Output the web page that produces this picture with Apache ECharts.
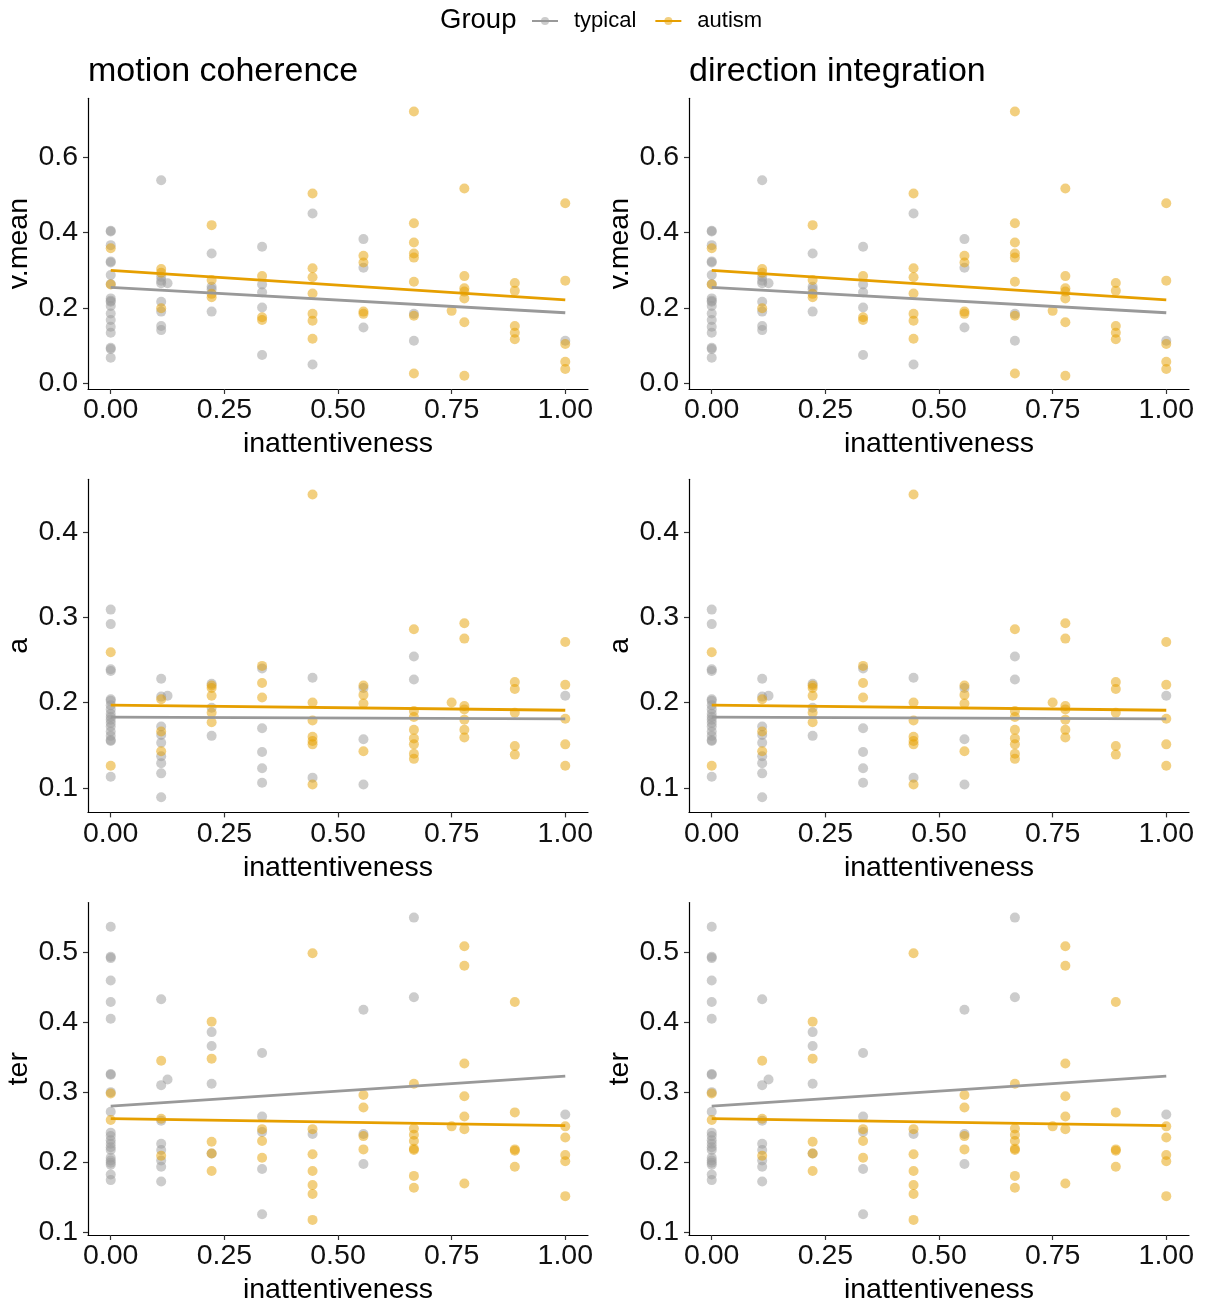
<!DOCTYPE html>
<html>
<head>
<meta charset="utf-8">
<script src="https://cdn.jsdelivr.net/npm/echarts@6/dist/echarts.min.js"></script>
<style>
html,body{margin:0;padding:0;background:#fff;}
#chart{width:1206px;height:1306px;}
</style>
</head>
<body>
<div id="chart"></div>
<script>
// ---- data (x = inattentiveness, y = parameter) ----
const xTicks = [0, 0.25, 0.5, 0.75, 1];
const vmeanTicks = [0, 0.2, 0.4, 0.6];
const aTicks = [0.1, 0.2, 0.3, 0.4];
const terTicks = [0.1, 0.2, 0.3, 0.4, 0.5];
const columnTitles = ['motion coherence', 'direction integration'];
const groups = ['typical', 'autism'];

// each entry: [x, [y values at that x]]
const vmeanTypical = [
  [0, [0.404, 0.402, 0.366, 0.323, 0.320, 0.287, 0.263, 0.225, 0.219, 0.216, 0.205, 0.185, 0.168, 0.150, 0.134, 0.094, 0.091, 0.068]],
  [0.111, [0.538, 0.282, 0.272, 0.265, 0.216, 0.190, 0.152, 0.141]],
  [0.125, [0.265]],
  [0.222, [0.344, 0.256, 0.249, 0.190]],
  [0.333, [0.362, 0.262, 0.241, 0.201, 0.075]],
  [0.444, [0.450, 0.050]],
  [0.556, [0.382, 0.306, 0.148]],
  [0.667, [0.184, 0.113]],
  [1, [0.113]]
];
const vmeanAutism = [
  [0, [0.358, 0.262]],
  [0.111, [0.303, 0.293, 0.199]],
  [0.222, [0.419, 0.274, 0.237, 0.228]],
  [0.333, [0.284, 0.175, 0.168]],
  [0.444, [0.503, 0.305, 0.281, 0.238, 0.184, 0.166, 0.118]],
  [0.556, [0.338, 0.320, 0.190, 0.184]],
  [0.667, [0.720, 0.424, 0.373, 0.344, 0.333, 0.269, 0.179, 0.026]],
  [0.75, [0.192]],
  [0.778, [0.516, 0.284, 0.252, 0.243, 0.225, 0.162, 0.020]],
  [0.889, [0.266, 0.245, 0.152, 0.134, 0.117]],
  [1, [0.477, 0.272, 0.104, 0.057, 0.038]]
];
const aTypical = [
  [0, [0.309, 0.292, 0.239, 0.237, 0.204, 0.202, 0.197, 0.192, 0.187, 0.183, 0.180, 0.176, 0.172, 0.166, 0.161, 0.156, 0.155, 0.113]],
  [0.111, [0.228, 0.207, 0.172, 0.162, 0.153, 0.137, 0.129, 0.117, 0.089]],
  [0.125, [0.208]],
  [0.222, [0.222, 0.194, 0.161]],
  [0.333, [0.240, 0.170, 0.142, 0.123, 0.106]],
  [0.444, [0.229, 0.112]],
  [0.556, [0.217, 0.157, 0.104]],
  [0.667, [0.254, 0.227]],
  [1, [0.208]]
];
const aAutism = [
  [0, [0.259, 0.126]],
  [0.111, [0.204, 0.166, 0.143]],
  [0.222, [0.220, 0.217, 0.208, 0.188, 0.177]],
  [0.333, [0.243, 0.223, 0.206]],
  [0.444, [0.444, 0.200, 0.179, 0.160, 0.155, 0.151, 0.104]],
  [0.556, [0.220, 0.209, 0.199, 0.143]],
  [0.667, [0.286, 0.190, 0.183, 0.168, 0.158, 0.151, 0.140, 0.134]],
  [0.75, [0.200]],
  [0.778, [0.293, 0.275, 0.196, 0.192, 0.180, 0.168, 0.159]],
  [0.889, [0.224, 0.216, 0.188, 0.149, 0.139]],
  [1, [0.271, 0.221, 0.181, 0.151, 0.126]]
];
const terTypical = [
  [0, [0.537, 0.494, 0.492, 0.460, 0.429, 0.405, 0.326, 0.325, 0.300, 0.272, 0.242, 0.237, 0.231, 0.226, 0.221, 0.217, 0.206, 0.202, 0.199, 0.196, 0.182, 0.174]],
  [0.111, [0.433, 0.310, 0.259, 0.226, 0.217, 0.202, 0.193, 0.172]],
  [0.125, [0.318]],
  [0.222, [0.386, 0.366, 0.312, 0.212]],
  [0.333, [0.356, 0.265, 0.243, 0.190, 0.125]],
  [0.444, [0.240]],
  [0.556, [0.418, 0.240, 0.197]],
  [0.667, [0.550, 0.436]],
  [1, [0.268]]
];
const terAutism = [
  [0, [0.298, 0.260]],
  [0.111, [0.345, 0.262, 0.209]],
  [0.222, [0.401, 0.348, 0.229, 0.212, 0.187]],
  [0.333, [0.247, 0.230, 0.206]],
  [0.444, [0.499, 0.247, 0.211, 0.187, 0.167, 0.154, 0.117]],
  [0.556, [0.296, 0.278, 0.237, 0.218]],
  [0.667, [0.312, 0.248, 0.239, 0.230, 0.219, 0.217, 0.180, 0.163]],
  [0.75, [0.251]],
  [0.778, [0.509, 0.481, 0.341, 0.294, 0.265, 0.247, 0.169]],
  [0.889, [0.429, 0.271, 0.218, 0.216, 0.193]],
  [1, [0.251, 0.235, 0.210, 0.201, 0.151]]
];
// linear fit values at x = 0 and x = 1
const fitX = [0, 1];
const vmeanFitTypical = [0.254, 0.187];
const vmeanFitAutism = [0.299, 0.221];
const aFitTypical = [0.183, 0.181];
const aFitAutism = [0.197, 0.191];
const terFitTypical = [0.280, 0.323];
const terFitAutism = [0.262, 0.252];

// ---- build chart ----
const FONT = '"Liberation Sans", Arial, sans-serif';
const COLORS = { typical: '#999999', autism: '#E69F00' };
const flat = cols => cols.flatMap(([x, ys]) => ys.map(y => [x, y]));

const rows = [
  { label: 'v.mean', ticks: vmeanTicks, typ: vmeanTypical, aut: vmeanAutism, ft: vmeanFitTypical, fa: vmeanFitAutism, top: 98.3, height: 290.7 },
  { label: 'a', ticks: aTicks, typ: aTypical, aut: aAutism, ft: aFitTypical, fa: aFitAutism, top: 479.3, height: 333.1 },
  { label: 'ter', ticks: terTicks, typ: terTypical, aut: terAutism, ft: terFitTypical, fa: terFitAutism, top: 902.5, height: 333.4 }
];
const colLefts = [88, 689];
const gridWidth = 500;
const TICK_FS = 28.5;

const grid = [], xAxis = [], yAxis = [], series = [];
let idx = 0;
rows.forEach(r => {
  const typ = flat(r.typ), aut = flat(r.aut);
  const allY = typ.concat(aut).map(p => p[1]).concat(r.ft, r.fa);
  const lo = Math.min(...allY), hi = Math.max(...allY);
  const pad = (hi - lo) * 0.05;
  colLefts.forEach(left => {
    grid.push({ left: left, top: r.top, width: gridWidth, height: r.height, containLabel: false });
    xAxis.push({
      type: 'value', gridIndex: idx, min: -0.05, max: 1.05,
      name: 'inattentiveness', nameLocation: 'middle', nameGap: 41,
      nameTextStyle: { fontFamily: FONT, fontSize: TICK_FS, color: '#000' },
      axisLine: { show: true, onZero: false, lineStyle: { color: '#000', width: 1.2 } },
      axisTick: { show: true, length: 5, customValues: xTicks, lineStyle: { color: '#333', width: 1.2 } },
      axisLabel: { customValues: xTicks, formatter: v => v.toFixed(2), fontFamily: FONT, fontSize: TICK_FS, color: '#111', margin: 7 },
      splitLine: { show: false }
    });
    yAxis.push({
      type: 'value', gridIndex: idx, min: lo - pad, max: hi + pad,
      name: r.label, nameLocation: 'middle', nameGap: 54, nameRotate: 90,
      nameTextStyle: { fontFamily: FONT, fontSize: TICK_FS, color: '#000' },
      axisLine: { show: true, onZero: false, lineStyle: { color: '#000', width: 1.2 } },
      axisTick: { show: true, length: 5, customValues: r.ticks, lineStyle: { color: '#333', width: 1.2 } },
      axisLabel: { customValues: r.ticks, formatter: v => v.toFixed(1), fontFamily: FONT, fontSize: TICK_FS, color: '#111', margin: 10 },
      splitLine: { show: false }
    });
    [['typical', r.ft], ['autism', r.fa]].forEach(([g, f]) => {
      series.push({
        type: 'line', name: g, xAxisIndex: idx, yAxisIndex: idx, z: 5,
        data: fitX.map((x, i) => [x, f[i]]),
        symbol: 'circle', symbolSize: 9, showSymbol: false, silent: true,
        lineStyle: { color: COLORS[g], width: 2.8 },
        itemStyle: { color: COLORS[g], opacity: 0.5 }
      });
    });
    [['typical', typ], ['autism', aut]].forEach(([g, d]) => {
      series.push({
        type: 'scatter', name: g, xAxisIndex: idx, yAxisIndex: idx, z: 2,
        data: d, symbolSize: 10, silent: true,
        itemStyle: { color: COLORS[g], opacity: 0.5 }
      });
    });
    idx++;
  });
});

const title = [
  { text: 'Group', left: 440, top: 6, padding: 0, textStyle: { fontFamily: FONT, fontSize: 27.5, fontWeight: 'normal', color: '#000' } }
].concat(columnTitles.map((t, i) => ({
  text: t, left: colLefts[i], top: 55, padding: 0,
  textStyle: { fontFamily: FONT, fontSize: 34, fontWeight: 'normal', color: '#000' }
})));

const chart = echarts.init(document.getElementById('chart'), null, { renderer: 'canvas' });
chart.setOption({
  animation: false,
  backgroundColor: '#fff',
  title: title,
  legend: {
    data: groups, left: 531, top: 10, padding: 0, itemWidth: 26, itemHeight: 10, itemGap: 18,
    textStyle: { fontFamily: FONT, fontSize: 22, color: '#000', padding: [0, 0, 0, 11] }
  },
  grid: grid, xAxis: xAxis, yAxis: yAxis, series: series
});
</script>
</body>
</html>
